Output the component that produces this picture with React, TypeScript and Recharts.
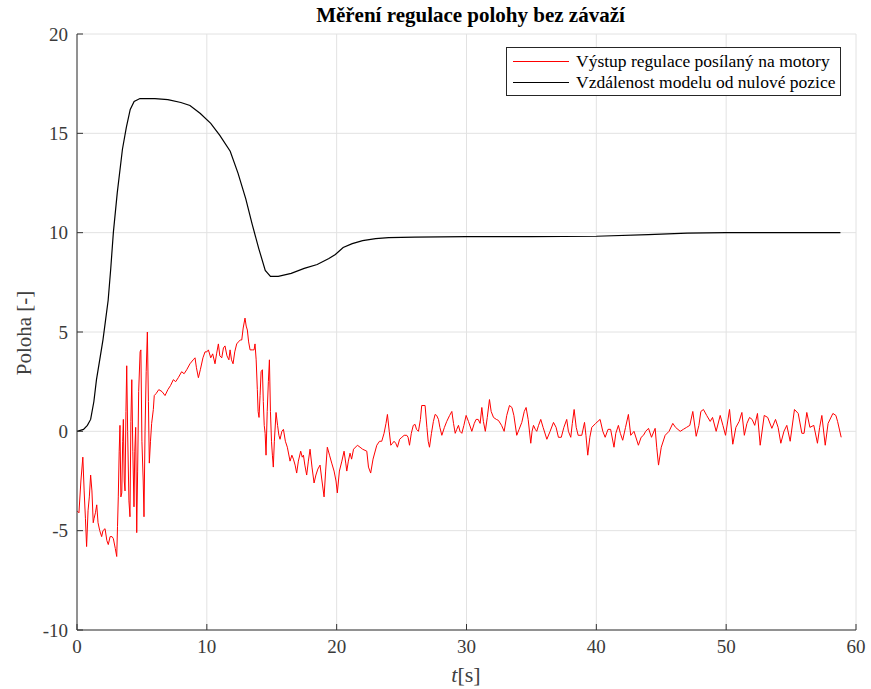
import { LineChart, Line, XAxis, YAxis, CartesianGrid } from "recharts";

const title = "Měření regulace polohy bez závaží";
const seriesNames = ["Výstup regulace posílaný na motory", "Vzdálenost modelu od nulové pozice"];
const seriesColors = ["#ff0000", "#000000"];
const xTicks = [0, 10, 20, 30, 40, 50, 60];
const yTicks = [-10, -5, 0, 5, 10, 15, 20];

// [t, value]
const controlOutput: [number, number][] = [
  [0, -4.0], [0.15, -4.1], [0.3, -2.5], [0.45, -1.3], [0.55, -3.0], [0.65, -4.4], [0.74, -5.8],
  [0.85, -4.0], [0.95, -3.3], [1.05, -2.2], [1.15, -3.0], [1.25, -4.6], [1.31, -4.4], [1.42, -4.1],
  [1.52, -3.7], [1.62, -4.6], [1.75, -5.0], [1.9, -5.3], [2.0, -5.0], [2.16, -4.9], [2.3, -5.5],
  [2.41, -5.7], [2.55, -5.3], [2.7, -5.3], [2.8, -5.4], [2.95, -5.9], [3.06, -6.3], [3.12, -4.8],
  [3.18, -3.3], [3.25, -1.0], [3.31, 0.3], [3.38, -3.3], [3.45, -3.1], [3.52, -0.5], [3.57, 0.6],
  [3.64, -2.5], [3.7, -3.0], [3.77, 1.0], [3.83, 3.3], [3.9, 0.0], [4.0, -3.5], [4.08, -4.3],
  [4.15, 0.5], [4.22, 2.6], [4.3, -1.0], [4.39, -3.8], [4.45, -1.0], [4.52, 0.2], [4.6, -5.1],
  [4.67, -2.0], [4.75, 2.0], [4.86, 4.0], [4.92, 4.1], [5.0, -0.5], [5.1, -2.5], [5.16, -4.3],
  [5.24, 0.0], [5.33, 3.0], [5.42, 5.0], [5.5, 1.5], [5.57, -1.6], [5.66, -0.5], [5.75, 0.4],
  [5.88, 1.1], [5.95, 1.8], [6.09, 1.9], [6.3, 2.1], [6.55, 2.0], [6.78, 1.8], [7.0, 2.1],
  [7.2, 2.3], [7.42, 2.6], [7.6, 2.5], [7.8, 2.7], [8.06, 3.0], [8.25, 2.9], [8.45, 3.1],
  [8.7, 3.4], [8.95, 3.6], [9.09, 3.7], [9.2, 3.2], [9.35, 2.7], [9.5, 3.1], [9.7, 3.7],
  [9.86, 4.0], [10.0, 4.0], [10.12, 4.1], [10.3, 3.7], [10.45, 3.9], [10.63, 3.4], [10.75, 3.9],
  [10.89, 4.4], [11.0, 3.8], [11.15, 3.7], [11.28, 4.2], [11.4, 4.3], [11.55, 3.8], [11.7, 3.6],
  [11.79, 4.1], [11.9, 3.6], [12.02, 3.4], [12.15, 4.0], [12.3, 4.4], [12.43, 4.5], [12.58, 4.6],
  [12.69, 4.6], [12.8, 5.2], [12.94, 5.7], [13.03, 5.3], [13.12, 5.1], [13.22, 4.5], [13.33, 4.1],
  [13.5, 4.1], [13.64, 4.1], [13.71, 4.4], [13.8, 3.6], [13.89, 2.1], [13.95, 1.0], [14.02, 0.7],
  [14.1, 1.8], [14.18, 3.0], [14.28, 3.1], [14.35, 1.5], [14.42, 0.3], [14.49, -0.1], [14.56, -1.2],
  [14.65, 1.0], [14.74, 2.5], [14.82, 3.6], [14.9, 1.0], [14.98, -0.5], [15.05, -1.2], [15.12, -1.8],
  [15.2, -0.5], [15.33, 0.95], [15.45, 0.3], [15.55, -0.2], [15.64, -0.4], [15.78, 0.0], [15.9, 0.1],
  [16.05, -0.5], [16.2, -0.8], [16.41, -1.5], [16.55, -1.2], [16.67, -1.4], [16.8, -1.7], [16.92, -2.1],
  [17.05, -1.5], [17.23, -1.0], [17.35, -1.3], [17.44, -1.2], [17.55, -1.7], [17.69, -2.2], [17.82, -1.5],
  [17.95, -0.9], [18.1, -1.8], [18.26, -2.6], [18.4, -2.2], [18.55, -1.9], [18.72, -1.7], [18.85, -2.4],
  [19.03, -3.3], [19.15, -2.0], [19.28, -0.8], [19.45, -1.2], [19.62, -1.6], [19.8, -2.0], [19.95, -2.5],
  [20.05, -3.1], [20.21, -2.0], [20.4, -1.5], [20.57, -1.0], [20.7, -1.6], [20.78, -2.0], [20.9, -1.5],
  [21.03, -1.1], [21.15, -1.4], [21.3, -0.9], [21.6, -0.7], [21.8, -0.8], [22.0, -0.9], [22.32, -1.0],
  [22.45, -1.8], [22.62, -2.1], [22.8, -1.4], [23.09, -0.7], [23.3, -0.5], [23.47, -0.5], [23.65, -0.1],
  [23.8, 0.4], [23.91, 0.85], [24.05, 0.0], [24.17, -0.7], [24.3, -0.6], [24.42, -0.5], [24.55, -0.6],
  [24.68, -0.8], [24.85, -0.4], [25.02, -0.3], [25.2, -0.2], [25.4, -0.2], [25.5, -0.3], [25.61, -0.7],
  [25.75, -0.1], [25.9, 0.3], [26.04, 0.35], [26.15, 0.1], [26.3, 0.0], [26.45, 0.6], [26.55, 1.3],
  [26.81, 1.3], [26.95, 0.2], [27.05, -0.5], [27.15, -0.8], [27.3, -0.1], [27.45, 0.5], [27.58, 0.85],
  [27.7, 0.8], [27.84, 0.6], [27.95, 0.2], [28.1, -0.2], [28.3, 0.2], [28.48, 0.5], [28.7, 0.8],
  [28.87, 1.0], [29.0, 0.4], [29.13, -0.1], [29.25, 0.1], [29.38, 0.3], [29.5, 0.0], [29.64, -0.1],
  [29.8, 0.3], [29.97, 0.8], [30.15, 0.5], [30.41, 0.0], [30.6, 0.4], [30.74, 0.6], [30.9, 0.6],
  [31.05, 0.4], [31.18, 1.2], [31.3, 0.5], [31.45, 0.0], [31.6, 0.7], [31.77, 1.6], [31.9, 1.0],
  [32.08, 0.7], [32.3, 0.6], [32.46, 0.55], [32.7, 0.3], [32.9, 0.0], [33.1, 0.8], [33.31, 1.3],
  [33.5, 1.2], [33.65, 0.8], [33.87, -0.2], [34.05, 0.1], [34.26, 0.45], [34.45, 1.0], [34.59, 1.2],
  [34.75, 0.6], [34.95, -0.6], [35.05, 0.0], [35.16, 0.3], [35.3, 0.1], [35.41, 0.0], [35.55, 0.3],
  [35.72, 0.6], [35.9, 0.2], [36.19, -0.4], [36.44, 0.0], [36.7, 0.45], [36.9, 0.2], [37.08, -0.3],
  [37.3, -0.3], [37.5, 0.2], [37.72, 0.6], [37.85, 0.0], [38.03, -0.3], [38.15, 0.4], [38.29, 1.1],
  [38.45, 0.2], [38.6, -0.2], [38.88, -0.2], [39.09, 0.45], [39.2, -0.2], [39.34, -1.2], [39.5, -0.3],
  [39.65, 0.2], [39.95, 0.4], [40.29, 0.6], [40.5, 0.0], [40.68, -0.3], [40.9, 0.1], [41.1, 0.1],
  [41.36, -0.8], [41.5, -0.1], [41.7, 0.3], [41.85, -0.1], [42.03, -0.45], [42.25, 0.2], [42.47, 0.85],
  [42.65, -0.2], [42.9, 0.0], [43.24, -0.7], [43.45, -0.3], [43.63, -0.2], [43.8, 0.0], [44.02, 0.15],
  [44.25, -0.3], [44.53, 0.15], [44.65, -0.8], [44.79, -1.7], [45.0, -0.8], [45.3, -0.2], [45.6, 0.0],
  [45.89, 0.4], [46.1, 0.2], [46.46, 0.0], [46.7, 0.1], [46.95, 0.2], [47.2, 0.3], [47.43, 1.0],
  [47.69, -0.25], [47.9, 0.3], [48.05, 1.0], [48.25, 1.1], [48.5, 0.8], [48.77, 0.5], [48.95, 0.7],
  [49.23, 0.0], [49.54, 0.8], [49.75, 0.3], [49.95, -0.2], [50.26, 1.1], [50.51, -0.65], [50.75, 0.2],
  [51.0, 0.5], [51.21, 0.95], [51.4, -0.2], [51.6, 0.4], [51.8, 0.7], [52.0, 0.6], [52.2, 0.3],
  [52.41, 0.9], [52.62, -0.7], [52.93, 0.8], [53.2, 0.7], [53.52, 0.15], [53.8, 0.6], [54.0, 0.2],
  [54.21, -0.6], [54.45, 0.0], [54.67, 0.3], [54.93, -0.5], [55.26, 1.1], [55.55, 0.9], [55.83, -0.1],
  [56.0, -0.1], [56.21, 0.95], [56.45, 0.2], [56.75, 0.3], [57.03, -0.6], [57.2, 0.2], [57.37, 0.8],
  [57.63, -0.7], [57.85, 0.4], [58.22, 0.9], [58.45, 0.8], [58.58, 0.5], [58.86, -0.3],
];

const modelDistance: [number, number][] = [
  [0, 0.0], [0.5, 0.1], [0.8, 0.3], [1.05, 0.6], [1.3, 1.5], [1.5, 2.6], [1.75, 3.6], [2.0, 4.6],
  [2.2, 5.6], [2.4, 6.6], [2.6, 8.2], [2.8, 10.0], [3.1, 12.0], [3.5, 14.2], [3.8, 15.3], [4.1, 16.2],
  [4.4, 16.6], [4.85, 16.75], [6.0, 16.75], [7.0, 16.7], [8.0, 16.55], [8.7, 16.4], [9.5, 16.0],
  [10.3, 15.5], [11.0, 14.9], [11.8, 14.1], [12.4, 13.0], [13.0, 11.7], [13.5, 10.4], [14.0, 9.2],
  [14.5, 8.1], [14.9, 7.8], [15.5, 7.8], [16.5, 7.95], [17.5, 8.2], [18.5, 8.4], [19.4, 8.7],
  [19.9, 8.9], [20.5, 9.25], [21.2, 9.45], [22.0, 9.6], [23.0, 9.7], [24.0, 9.75], [26.0, 9.78],
  [30.0, 9.8], [35.0, 9.8], [40.0, 9.82], [44.0, 9.9], [47.0, 9.98], [50.0, 10.0], [55.0, 10.0],
  [58.8, 10.0],
];

const redData = controlOutput.map(([t, v]) => ({ t, v }));
const blackData = modelDistance.map(([t, v]) => ({ t, v }));

const serif = "'Liberation Serif', 'Times New Roman', serif";
const axisColor = "#333333";
const tickStyle = { fill: "#3a3a3a", fontSize: 19, fontFamily: serif };

export default function App() {
  return (
    <div style={{ position: "absolute", left: 0, top: 0, width: 871, height: 689, background: "#fff", fontFamily: serif }}>
      <div style={{ position: "absolute", left: 77, width: 787, top: 2, textAlign: "center", fontSize: 21, fontWeight: "bold", color: "#000", lineHeight: "26px" }}>
        {title}
      </div>
      <LineChart width={871} height={689} data={redData} margin={{ top: 34, right: 15, bottom: 29, left: 0 }}>
        <CartesianGrid stroke="#e2e2e2" strokeWidth={1} />
        <XAxis
          type="number"
          dataKey="t"
          domain={[0, 60]}
          ticks={xTicks}
          allowDataOverflow
          height={30}
          stroke={axisColor}
          tickSize={-6}
          tickMargin={16}
          tick={tickStyle}
        />
        <YAxis
          type="number"
          domain={[-10, 20]}
          ticks={yTicks}
          allowDataOverflow
          width={77}
          stroke={axisColor}
          tickSize={-6}
          tickMargin={15}
          tick={tickStyle}
        />
        <Line data={redData} dataKey="v" type="linear" stroke={seriesColors[0]} strokeWidth={1} dot={false} isAnimationActive={false} />
        <Line data={blackData} dataKey="v" type="linear" stroke={seriesColors[1]} strokeWidth={1.2} dot={false} isAnimationActive={false} />
      </LineChart>
      <div
        style={{
          position: "absolute",
          left: 506,
          top: 47,
          width: 333,
          height: 47,
          border: "1px solid #262626",
          background: "#fff",
          fontSize: 17.5,
          color: "#000",
        }}
      >
        {seriesNames.map((name, i) => (
          <div key={name} style={{ display: "flex", alignItems: "center", height: 21, marginTop: i === 0 ? 3 : 0 }}>
            <div style={{ marginLeft: 6, width: 56, height: 0, borderTop: `1px solid ${seriesColors[i]}` }} />
            <span style={{ marginLeft: 7, whiteSpace: "nowrap" }}>{name}</span>
          </div>
        ))}
      </div>
      <div
        style={{
          position: "absolute",
          left: 24,
          top: 333,
          transform: "translate(-50%, -50%) rotate(-90deg)",
          fontSize: 21,
          color: "#404040",
          whiteSpace: "nowrap",
        }}
      >
        Poloha [-]
      </div>
      <div
        style={{
          position: "absolute",
          left: 466,
          top: 675,
          transform: "translate(-50%, -50%)",
          fontSize: 22,
          color: "#404040",
          whiteSpace: "nowrap",
        }}
      >
        <i>t</i>[s]
      </div>
    </div>
  );
}
